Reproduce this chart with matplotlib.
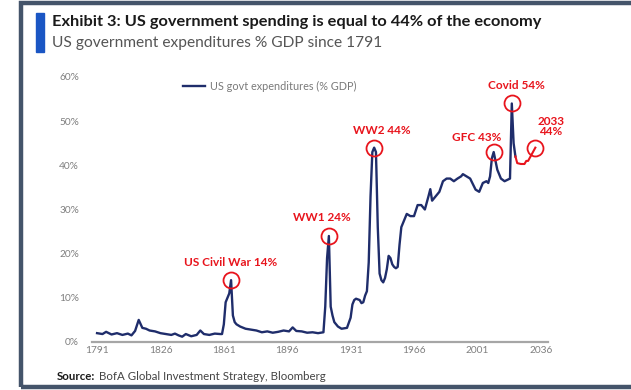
import matplotlib.pyplot as plt
from matplotlib.patches import Rectangle

plt.rcParams['font.family'] = ['Lato', 'DejaVu Sans']

# US government expenditures as % of GDP (history)
years = [1791, 1794, 1796, 1799, 1802, 1805, 1808, 1810, 1812, 1814, 1816, 1818,
         1820, 1823, 1826, 1829, 1832, 1834, 1836, 1838, 1840, 1843, 1846, 1848,
         1850, 1853, 1856, 1859, 1860, 1861, 1862, 1863, 1864, 1865, 1866, 1867,
         1868, 1870, 1873, 1876, 1879, 1882, 1885, 1888, 1891, 1894, 1897, 1899,
         1901, 1904, 1907, 1910, 1913, 1916, 1917, 1918, 1919, 1920, 1921, 1922,
         1924, 1926, 1929, 1931, 1932, 1933, 1934, 1936, 1937, 1938, 1939, 1940,
         1941, 1942, 1943, 1944, 1945, 1946, 1947, 1948, 1949, 1950, 1951, 1952,
         1953, 1954, 1955, 1956, 1957, 1958, 1959, 1960, 1962, 1964, 1966, 1968,
         1970, 1972, 1974, 1975, 1976, 1978, 1980, 1982, 1984, 1986, 1988, 1990,
         1992, 1993, 1995, 1997, 1999, 2000, 2002, 2004, 2006, 2007, 2008, 2009,
         2010, 2011, 2012, 2014, 2016, 2018, 2019, 2020, 2021, 2022]
spending = [2.0, 1.8, 2.3, 1.7, 2.0, 1.6, 1.9, 1.5, 2.5, 5.0, 3.2, 3.0,
            2.6, 2.4, 2.0, 1.8, 1.6, 1.9, 1.5, 1.2, 1.8, 1.3, 1.6, 2.6,
            1.8, 1.6, 1.9, 1.8, 1.8, 4.0, 9.0, 10.0, 11.0, 14.0, 6.0, 4.5,
            4.0, 3.5, 3.0, 2.8, 2.6, 2.2, 2.4, 2.1, 2.3, 2.6, 2.4, 3.3,
            2.5, 2.4, 2.1, 2.2, 2.0, 2.2, 8.0, 19.0, 24.0, 8.0, 6.0, 4.5,
            3.5, 3.0, 3.2, 5.5, 8.5, 9.5, 9.8, 9.5, 8.8, 9.0, 10.5, 11.5,
            18.0, 33.0, 43.0, 44.0, 43.0, 26.0, 15.5, 14.0, 13.5, 14.5, 16.5, 19.5,
            19.0, 17.6, 17.0, 16.7, 17.0, 22.0, 26.0, 27.0, 29.0, 28.5, 28.5, 31.0,
            31.0, 30.0, 33.0, 34.6, 32.0, 33.0, 34.0, 36.4, 37.0, 37.0, 36.4, 37.0,
            37.5, 38.0, 37.5, 37.0, 35.3, 34.5, 34.0, 36.0, 36.4, 36.0, 37.5, 41.6,
            43.0, 41.0, 39.0, 37.0, 36.4, 36.8, 37.0, 54.0, 45.0, 42.0]

# projection to 2033
proj_years = [2022, 2023, 2025, 2027, 2028, 2029, 2031, 2033]
proj_spending = [42.0, 40.5, 40.3, 40.3, 41.0, 41.0, 42.5, 44.0]

# highlighted episodes: (year, value, label, label_x, label_y)
events = [
    (1865, 14, 'US Civil War 14%', 1865, 17.9),
    (1919, 24, 'WW1 24%', 1915, 28.1),
    (1944, 44, 'WW2 44%', 1948.5, 47.8),
    (2010, 43, 'GFC 43%', 2000.5, 46.4),
    (2020, 54, 'Covid 54%', 2022.5, 58.0),
    (2033, 44, '2033\n44%', 2041.5, 48.8),
]

xticks = [1791, 1826, 1861, 1896, 1931, 1966, 2001, 2036]
yticks = [0, 10, 20, 30, 40, 50, 60]

navy = '#1f2d6b'
red = '#e8141c'

fig = plt.figure(figsize=(6.31, 3.90), dpi=100)
ax = fig.add_axes([0.1452, 0.1231, 0.7233, 0.6795])

ax.plot(years, spending, color=navy, lw=1.7, label='US govt expenditures (% GDP)')
ax.plot(proj_years, proj_spending, color=red, lw=1.5)

for yr, val, txt, tx, ty in events:
    ax.plot(yr, val, marker='o', ms=11.5, mfc='none', mec=red, mew=1.3)
    ax.text(tx, ty, txt, color=red, fontsize=8.5, fontweight='bold',
            ha='center', va='center', linespacing=0.95)

ax.set_xlim(1788, 2040)
ax.set_ylim(0, 60)
ax.set_xticks(xticks)
ax.set_yticks(yticks)
ax.set_yticklabels([f'{v}%' for v in yticks])
ax.tick_params(axis='both', length=0, labelsize=7.3, labelcolor='#7f7f7f')
ax.tick_params(axis='x', pad=3)
ax.tick_params(axis='y', pad=9)
for s in ['top', 'right', 'left']:
    ax.spines[s].set_visible(False)
ax.spines['bottom'].set_color('#a6a6a6')
ax.spines['bottom'].set_linewidth(1.6)

ax.legend(loc='center left', bbox_to_anchor=(0.189, 0.966), frameon=False,
          fontsize=7.8, handlelength=2.0, handletextpad=0.5, borderpad=0,
          labelcolor='#7a7a7a')

# outer frame and blue accent bar
fig.patches.append(Rectangle((21 / 631, 3 / 390), 1.2, 384 / 390,
                             transform=fig.transFigure, fill=False,
                             edgecolor='#44546a', lw=3.2))
fig.patches.append(Rectangle((36 / 631, 1 - 52 / 390), 8 / 631, 39 / 390,
                             transform=fig.transFigure, color='#1a56c4'))

fig.text(52 / 631, 1 - 22 / 390,
         'Exhibit 3: US government spending is equal to 44% of the economy',
         fontsize=11.8, fontweight='bold', color='#1a1a1a', va='center')
fig.text(52 / 631, 1 - 43 / 390, 'US government expenditures % GDP since 1791',
         fontsize=11.2, color='#555555', va='center')
fig.text(57 / 631, 1 - 377 / 390, 'Source:', fontsize=8.3, fontweight='bold',
         color='#1a1a1a', va='center')
fig.text(99 / 631, 1 - 377 / 390, 'BofA Global Investment Strategy, Bloomberg',
         fontsize=8.3, color='#444444', va='center')

fig.savefig('out.png', dpi=100)
